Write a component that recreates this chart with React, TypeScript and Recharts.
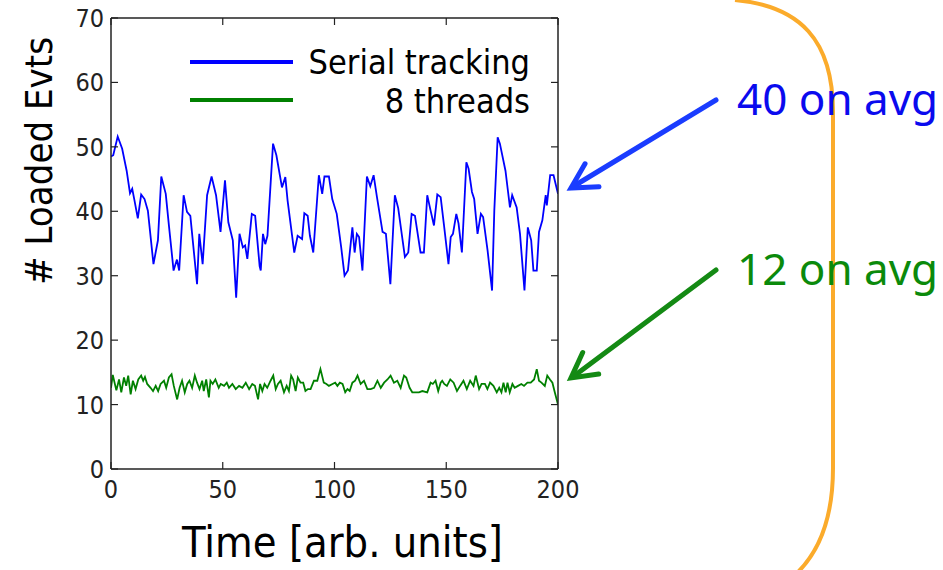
import React from 'react';
import { LineChart, Line, XAxis, YAxis, Legend } from 'recharts';

// ---------- data ----------
const serialTime = [0, 1, 3, 5, 7, 8.5, 9.5, 10.5, 12, 13.5, 15, 16.5, 19, 21, 22.5, 24.5, 26, 28, 29.5, 30.5, 32.5, 34, 35.5, 38.5, 39.5, 41, 43, 45, 47, 49, 51, 52.5, 54.5, 56, 57.5, 59, 60, 61, 63, 64.5, 66.5, 67, 68, 69, 70, 72.5, 74, 76.5, 78, 79, 82, 83.5, 85.5, 86.5, 88, 89, 90.5, 93, 94.5, 95.5, 97.5, 99, 101, 103, 104.5, 106, 108, 109, 110, 111, 112.5, 114.5, 116, 117.5, 119, 121.5, 123, 125, 127, 128.5, 131.5, 133, 134.5, 136, 138.5, 140, 141.5, 143, 144.5, 146, 147.5, 149, 151, 152, 153, 154.5, 155.5, 157, 159, 160, 161.5, 162.5, 164, 165.5, 166.5, 168.5, 170.5, 171.5, 173, 174, 176.5, 178.5, 179.5, 181.5, 183, 185, 186.5, 188, 189, 190.5, 191.5, 193, 194.5, 195, 196.5, 198, 200];
const serialValues = [48.5, 48.7, 51.6, 49.7, 46.3, 42.8, 43.5, 41.7, 38.9, 42.6, 41.9, 40.1, 31.8, 35.5, 45.4, 42.7, 37.5, 30.8, 32.5, 30.8, 42.5, 39.9, 39.3, 28.7, 36.5, 31.8, 42.5, 45.4, 42.5, 36.8, 44.8, 38.3, 35.5, 26.6, 36.5, 34.4, 34.7, 32.6, 39.6, 39.3, 31.5, 30.8, 36.5, 34.9, 36.2, 50.5, 48.7, 43.7, 45.3, 41.7, 33.6, 36.2, 35.7, 39.7, 39.3, 36.2, 33.6, 45.6, 42.7, 45.4, 45.4, 41.9, 39.6, 34.4, 30, 30.8, 37.5, 33.6, 36.5, 36, 30.8, 45.4, 43.9, 45.6, 42.2, 36.8, 36.5, 28.7, 42.5, 40.5, 32.9, 33.6, 39.6, 39.3, 33.6, 33.6, 42.5, 40.1, 37.8, 42.6, 42.2, 37.8, 31.8, 36, 36.5, 39.6, 38.1, 33.6, 47.6, 46.6, 43, 41.9, 36.5, 39.6, 39.1, 33.9, 27.7, 40.1, 51.5, 50.5, 46.3, 40.6, 42.5, 40.6, 36.5, 27.7, 37.5, 35.5, 30.8, 30.8, 36.8, 38.6, 42.5, 40.9, 45.6, 45.6, 42.7];

const threadsTime = [0, 0.8, 2.4, 3.6, 4.6, 5.8, 6.8, 7.7, 8.8, 9.8, 11, 12.2, 13.5, 14.4, 15.2, 16.2, 17.7, 18.8, 20, 21.1, 22.2, 23.7, 24.7, 25.9, 27.1, 28.1, 29.6, 30.7, 31.8, 33, 34.1, 35.1, 36.3, 37.5, 38.5, 39.6, 40.8, 41.5, 42.6, 43.8, 44.5, 45.5, 46.7, 48.2, 49.1, 50.6, 51.8, 52.8, 54.3, 55.8, 57.3, 58.8, 60.3, 61.8, 63.2, 64.4, 65.8, 66.7, 67.7, 68.7, 69.9, 71.4, 72.6, 73.7, 74.7, 75.9, 77.4, 78.6, 79.6, 80.6, 81.5, 82.6, 83.6, 84.8, 86, 87, 88.1, 89.3, 90.8, 92.3, 93.7, 95.2, 96.4, 97.5, 99.1, 100.3, 101.3, 102.4, 103.6, 104.8, 105.8, 106.8, 108, 109.2, 110.3, 111.7, 113.2, 114.7, 116.2, 117.7, 119.2, 120.7, 122.2, 123.7, 125.1, 126.6, 128.1, 129.6, 131.1, 132.1, 133.6, 134.8, 136.3, 137.8, 139.3, 141.5, 143, 144, 145.2, 146.4, 147.5, 148.2, 149.1, 150.3, 151.8, 153.3, 154.8, 156.2, 157.7, 159.2, 160.7, 162.2, 163.2, 164.7, 165.8, 167.3, 168.4, 169.6, 171.1, 172.6, 173.7, 174.7, 175.6, 176.6, 177.4, 178.4, 179.6, 180.6, 182.1, 183.6, 184.8, 186.3, 187.8, 189.3, 190.5, 191.5, 192.6, 194.1, 195.2, 196.4, 197.5, 198.5, 200];
const threadsValues = [12.6, 14.6, 12.2, 13.9, 11.9, 14.2, 12.9, 14.5, 11.6, 13.7, 12.4, 13.9, 14.5, 13.7, 14.3, 13.2, 12.6, 12.1, 12.9, 12.1, 13.2, 13.7, 12.6, 14.2, 14.7, 12.9, 10.8, 12.6, 13.7, 11.9, 13.2, 13.7, 12.6, 14.5, 13.4, 12.4, 13.7, 12.1, 13.9, 11.1, 13.7, 13.2, 13.9, 12.6, 13.2, 12.9, 13.4, 12.6, 13.2, 12.4, 12.9, 12.6, 13.4, 12.4, 13.2, 12.9, 10.8, 13.2, 12.1, 13.2, 12.6, 13.7, 14.5, 12.4, 13.2, 13.7, 11.9, 12.9, 12.1, 14.5, 13.9, 12.1, 14.2, 13.4, 13.4, 12.1, 12.4, 12.4, 13.7, 13.7, 15.5, 13.4, 13.2, 12.9, 13.2, 13.4, 12.9, 13.4, 13.2, 11.9, 12.4, 12.1, 13.4, 13.7, 14.5, 13.2, 13.7, 12.4, 12.4, 12.6, 13.7, 12.6, 13.4, 13.9, 14.5, 13.4, 13.7, 12.6, 14.5, 14.2, 12.6, 11.9, 11.9, 11.9, 12.1, 11.9, 13.4, 13.2, 13.7, 12.1, 13.4, 13.7, 13.2, 12.9, 13.9, 13.4, 12.1, 12.9, 13.7, 12.4, 13.7, 12.9, 14.5, 12.4, 13.2, 13.2, 12.4, 13.4, 12.9, 11.9, 12.6, 11.9, 13.4, 11.9, 13.4, 11.9, 13.2, 12.6, 12.9, 13.2, 12.9, 13.4, 13.4, 13.9, 15.5, 13.7, 13.4, 12.9, 14.5, 13.9, 13.4, 12, 10];

const xTicks = [0, 50, 100, 150, 200];
const yTicks = [0, 10, 20, 30, 40, 50, 60, 70];
const seriesNames = ['Serial tracking', '8 threads'];
const annotations = ['40 on avg', '12 on avg'];

const serialData = serialTime.map((t, i) => ({ t, v: serialValues[i] }));
const threadsData = threadsTime.map((t, i) => ({ t, v: threadsValues[i] }));

// ---------- styles ----------
const FONT = "'DejaVu Sans Condensed', 'DejaVu Sans', sans-serif";
const AXIS = '#222';
const BLUE = '#0000ff';
const GREEN = '#008000';

const BottomTick = (p: any) => (
  <g>
    <line x1={p.x} x2={p.x} y1={p.y} y2={p.y - 7} stroke={AXIS} strokeWidth={1.2} />
    <text x={p.x} y={p.y + 29} textAnchor="middle" fontFamily={FONT} fontStretch="condensed" fontSize={25} fill="#222">
      {p.payload.value}
    </text>
  </g>
);
const TopTick = (p: any) => (
  <line x1={p.x} x2={p.x} y1={p.y} y2={p.y + 7} stroke={AXIS} strokeWidth={1.2} />
);
const LeftTick = (p: any) => (
  <g>
    <line x1={p.x} x2={p.x + 7} y1={p.y} y2={p.y} stroke={AXIS} strokeWidth={1.2} />
    <text x={p.x - 7} y={p.y + 9} textAnchor="end" fontFamily={FONT} fontStretch="condensed" fontSize={25} fill="#222">
      {p.payload.value}
    </text>
  </g>
);
const RightTick = (p: any) => (
  <line x1={p.x} x2={p.x - 7} y1={p.y} y2={p.y} stroke={AXIS} strokeWidth={1.2} />
);

const XTitle = (p: any) => {
  const vb = p.viewBox || { x: 111, y: 469, width: 447 };
  return (
    <text x={vb.x + vb.width / 2 + 8} y={vb.y + 88} textAnchor="middle" fontFamily={FONT} fontStretch="condensed" fontSize={43} fill="#000">
      Time [arb. units]
    </text>
  );
};
const YTitle = (p: any) => {
  const vb = p.viewBox || { x: 0, y: 18 };
  const x = vb.x + 52;
  const y = vb.y + 143;
  return (
    <text x={x} y={y} transform={`rotate(-90 ${x} ${y})`} textAnchor="middle" fontFamily={FONT} fontStretch="condensed" fontSize={38} fill="#000">
      # Loaded Evts
    </text>
  );
};

const renderLegend = (props: any) => {
  const payload = props.payload || [];
  const ordered = seriesNames
    .map((n) => payload.find((p: any) => p.value === n))
    .filter(Boolean);
  return (
    <svg width={560} height={130} style={{ display: 'block', overflow: 'visible' }}>
      {ordered.map((p: any, i: number) => (
        <g key={i}>
          <line x1={190} x2={293} y1={62 + i * 38} y2={62 + i * 38} stroke={p.color} strokeWidth={4} />
          <text x={530} y={74 + i * 39} textAnchor="end" fontFamily={FONT} fontStretch="condensed" fontSize={34} fill="#000">
            {p.value}
          </text>
        </g>
      ))}
    </svg>
  );
};

function arrowHead(x1: number, y1: number, x2: number, y2: number, len: number, ang: number) {
  const a = Math.atan2(y1 - y2, x1 - x2);
  const p1 = [x2 + len * Math.cos(a + ang), y2 + len * Math.sin(a + ang)];
  const p2 = [x2 + len * Math.cos(a - ang), y2 + len * Math.sin(a - ang)];
  return `M ${p1[0]} ${p1[1]} L ${x2} ${y2} L ${p2[0]} ${p2[1]}`;
}

const Arrow = ({ x1, y1, x2, y2, color }: any) => (
  <g stroke={color} strokeWidth={5} fill="none" strokeLinecap="round" strokeLinejoin="miter">
    <line x1={x1} y1={y1} x2={x2 + 3} y2={y2 - 2} />
    <path d={arrowHead(x1, y1, x2, y2, 28, 0.5)} />
  </g>
);

export default function App() {
  return (
    <div style={{ position: 'absolute', left: 0, top: 0, width: 943, height: 570, background: '#fff' }}>
      <LineChart width={943} height={570} margin={{ top: 17, right: 384, bottom: 41, left: 0 }}>
        <XAxis
          xAxisId="b"
          dataKey="t"
          type="number"
          domain={[0, 200]}
          ticks={xTicks}
          allowDataOverflow
          height={60}
          tickSize={0}
          tickMargin={0}
          tick={<BottomTick />}
          axisLine={{ stroke: AXIS, strokeWidth: 1.5 }}
          label={XTitle}
        />
        <XAxis
          xAxisId="top"
          orientation="top"
          dataKey="t"
          type="number"
          domain={[0, 200]}
          ticks={xTicks}
          allowDataOverflow
          height={1}
          tickSize={0}
          tickMargin={0}
          tick={<TopTick />}
          axisLine={{ stroke: AXIS, strokeWidth: 1.5 }}
        />
        <YAxis
          yAxisId="l"
          type="number"
          domain={[0, 70]}
          ticks={yTicks}
          allowDataOverflow
          width={111}
          tickSize={0}
          tickMargin={0}
          tick={<LeftTick />}
          axisLine={{ stroke: AXIS, strokeWidth: 1.5 }}
          label={YTitle}
        />
        <YAxis
          yAxisId="r"
          orientation="right"
          type="number"
          domain={[0, 70]}
          ticks={yTicks}
          allowDataOverflow
          width={1}
          tickSize={0}
          tickMargin={0}
          tick={<RightTick />}
          axisLine={{ stroke: AXIS, strokeWidth: 1.5 }}
        />
        <Legend
          layout="horizontal"
          verticalAlign="middle"
          align="center"
          content={renderLegend}
          wrapperStyle={{ top: 0, left: 0, width: 560, height: 130 }}
        />
        <Line
          xAxisId="b"
          yAxisId="l"
          data={serialData}
          dataKey="v"
          name={seriesNames[0]}
          type="linear"
          stroke={BLUE}
          strokeWidth={1.8}
          dot={false}
          isAnimationActive={false}
        />
        <Line
          xAxisId="top"
          yAxisId="r"
          data={threadsData}
          dataKey="v"
          name={seriesNames[1]}
          type="linear"
          stroke={GREEN}
          strokeWidth={1.8}
          dot={false}
          isAnimationActive={false}
        />
      </LineChart>
      <svg width={943} height={570} style={{ position: 'absolute', left: 0, top: 0, pointerEvents: 'none' }}>
        <path
          d="M 735 0 C 800 6, 833 40, 833 112 L 833 468 C 833 520, 818 552, 798 572"
          stroke="#fbab2b"
          strokeWidth={4}
          fill="none"
        />
        <Arrow x1={716} y1={100} x2={571} y2={188} color="#1a3cff" />
        <Arrow x1={716} y1={270} x2={571} y2={378} color="#148a14" />
        <text x={737} y={115} fontFamily="'Noto Sans', sans-serif" fontSize={44} fill="#0a0aee">
          {annotations[0]}
        </text>
        <text x={737} y={285} fontFamily="'Noto Sans', sans-serif" fontSize={44} fill="#0b8a0b">
          {annotations[1]}
        </text>
      </svg>
    </div>
  );
}
